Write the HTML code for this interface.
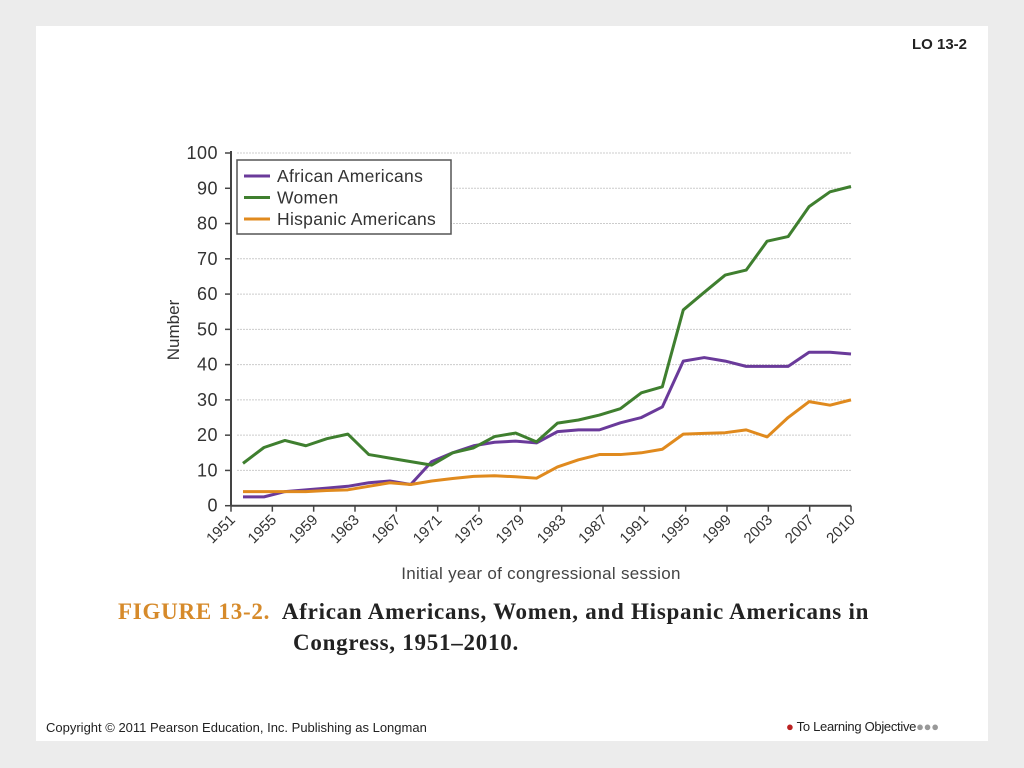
<!DOCTYPE html>
<html><head><meta charset="utf-8"><style>
body{margin:0;width:1024px;height:768px;background:#ececec;overflow:hidden;font-family:"Liberation Sans",sans-serif;}
#slide{position:absolute;left:36px;top:26px;width:952px;height:715px;background:#fff;}
.t{position:absolute;white-space:nowrap;}
</style></head><body>
<div id="slide"></div>
<div class="t" style="left:912px;top:36px;font-size:15px;font-weight:bold;color:#222;">LO 13-2</div>
<svg id="chart" width="1024" height="768" style="position:absolute;left:0;top:0;"></svg>
<div class="t" style="left:118px;top:596px;font-family:'Liberation Serif',serif;font-size:23px;font-weight:bold;line-height:31px;color:#222;letter-spacing:0.75px;"><span style="color:#d68a2a;">FIGURE 13-2.</span>&nbsp; African Americans, Women, and Hispanic Americans in<br><span style="padding-left:175px">Congress, 1951–2010.</span></div>
<div class="t" style="left:46px;top:720px;font-size:13px;color:#222;letter-spacing:0px;">Copyright © 2011 Pearson Education, Inc. Publishing as Longman</div>
<div class="t" style="left:786px;top:719px;font-size:13px;color:#222;letter-spacing:-0.3px;"><span style="color:#b22;">●</span> To Learning Objective<span style="color:#999">●●●</span></div>
<script>
const tickYears=["1951","1955","1959","1963","1967","1971","1975","1979","1983","1987","1991","1995","1999","2003","2007","2010"];
const yTicks=[0,10,20,30,40,50,60,70,80,90,100];
const seriesNames=["African Americans","Women","Hispanic Americans"];
const seriesColors=["#6a3a9a","#3f7f2f","#e08a1e"];
const african=[2.5,2.5,4,4.5,5,5.5,6.5,7,6,12.5,15,17,18,18.3,17.8,21,21.5,21.5,23.5,25,28,41,42,41,39.5,39.5,39.5,43.5,43.5,43];
const women=[12,16.5,18.5,17,19,20.3,14.5,13.5,12.5,11.5,15,16.4,19.6,20.6,18.1,23.4,24.3,25.7,27.5,32,33.7,55.5,60.5,65.4,66.8,75,76.3,84.8,89,90.5];
const hispanic=[4,4,4,4,4.3,4.5,5.5,6.5,6,7,7.7,8.3,8.5,8.2,7.8,11,13,14.5,14.5,15,16,20.3,20.5,20.7,21.5,19.5,25,29.5,28.5,30];
const NS="http://www.w3.org/2000/svg";
const svg=document.getElementById('chart');
const X0=231,X1=851,Y0=505.7,Y1=153;
const y=v=>Y0-(v/100)*(Y0-Y1);
const tickX=i=>X0+i*(X1-X0)/(tickYears.length-1);
const ptX=i=>243+i*(851-243)/(african.length-1);
function mk(tag,attrs){const e=document.createElementNS(NS,tag);for(const k in attrs)e.setAttribute(k,attrs[k]);svg.appendChild(e);return e;}
yTicks.forEach(v=>{
  if(v>0){const g=mk('line',{x1:X0+6,x2:X1,y1:y(v),y2:y(v),stroke:'#ccc','stroke-dasharray':'2,1'});
  
  }
  const tk=mk('line',{x1:X0-6,x2:X0,y1:y(v),y2:y(v),stroke:'#444','stroke-width':1.5});
  
  
  const t=mk('text',{x:X0-13,y:y(v)+6,'text-anchor':'end','font-size':18,fill:'#333','font-family':'Liberation Sans, sans-serif','letter-spacing':'0.5'});
  t.textContent=v;
  
  
});
const ax=mk('line',{x1:X0,x2:X0,y1:Y1-2,y2:Y0,stroke:'#444','stroke-width':2});


const bx=mk('line',{x1:X0,x2:X1,y1:Y0,y2:Y0,stroke:'#444','stroke-width':2});


tickYears.forEach((lab,i)=>{
  const tk=mk('line',{x1:tickX(i),x2:tickX(i),y1:Y0,y2:Y0+6,stroke:'#444','stroke-width':1.5});
  
  
  const t=mk('text',{x:tickX(i)+5,y:Y0+15,'text-anchor':'end','font-size':15,fill:'#333','font-family':'Liberation Sans, sans-serif',transform:`rotate(-45 ${tickX(i)+5} ${Y0+15})`});
  t.textContent=lab;
  
  
});
const xt=mk('text',{x:541,y:579,'text-anchor':'middle','font-size':17,fill:'#444','font-family':'Liberation Sans, sans-serif','letter-spacing':'0.3'});
xt.textContent='Initial year of congressional session';


const yt=mk('text',{x:179,y:330,'text-anchor':'middle','font-size':17,fill:'#333','font-family':'Liberation Sans, sans-serif',transform:'rotate(-90 179 330)'});
yt.textContent='Number';


[african,women,hispanic].forEach((s,k)=>{
  const p=mk('polyline',{points:s.map((v,i)=>ptX(i)+','+y(v)).join(' '),fill:'none',stroke:seriesColors[k],'stroke-width':3,'stroke-linejoin':'round'});
  
  
});
const lg=mk('rect',{x:237,y:160,width:214,height:74,fill:'#fff',stroke:'#555','stroke-width':1.5});


seriesNames.forEach((n,k)=>{
  const ly=176+k*21.5;
  const l=mk('line',{x1:244,x2:270,y1:ly,y2:ly,stroke:seriesColors[k],'stroke-width':3});
  
  
  const t=mk('text',{x:277,y:ly+6,'font-size':17.5,fill:'#333','font-family':'Liberation Sans, sans-serif','letter-spacing':'0.3'});
  t.textContent=n;
  
  
});
</script>
</body></html>
